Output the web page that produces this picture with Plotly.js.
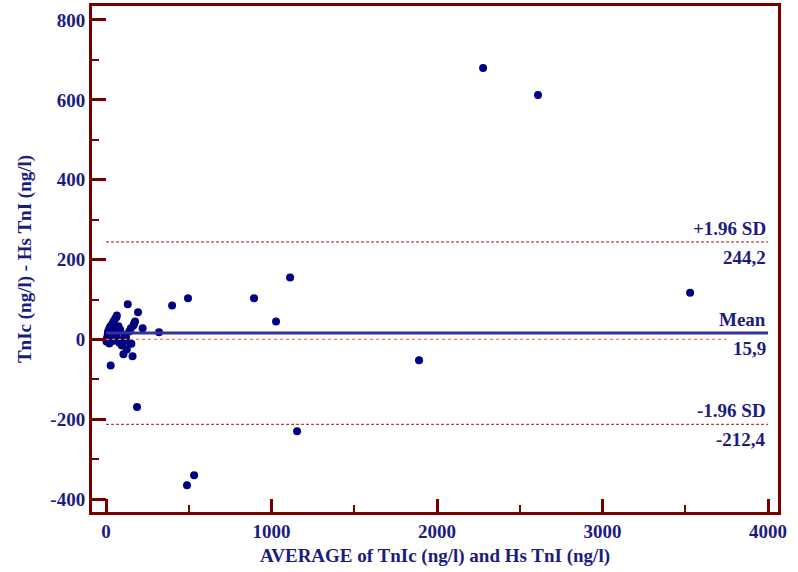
<!DOCTYPE html>
<html>
<head>
<meta charset="utf-8">
<script src="https://cdn.plot.ly/plotly-3.0.1.min.js"></script>
<style>html,body{margin:0;padding:0;background:#fff;}#chart{width:798px;height:572px;}</style>
</head>
<body>
<div id="chart"></div>
<script>
// Bland-Altman data: average (x) and difference (y)
const avgValues = [2,5,8,10,12,15,18,20,22,25,28,30,32,35,40,45,48,50,55,58,62,65,68,72,75,80,85,95,100,105,110,120,125,131,140,145,150,153,160,165,170,175,187,193,221,320,
  399,495,489,532,894,1027,1112,1154,1891,2278,2610,3529];
const diffValues = [-5,3,-2,12,20,8,25,-10,30,15,-65,35,5,22,40,45,-3,28,52,10,55,60,18,0,33,-8,25,-15,-7,-37,12,5,-25,88,20,-10,28,-11,-42,35,40,45,-169,68,28,18,
  85,103,-365,-340,103,45,155,-230,-52,680,612,117];
const meanDiff = 15.9;
const upperLoA = 244.2;
const lowerLoA = -212.4;
const lineSpan = [0, 4000];
const zeroSpan = [0, 3750];
const upperLabels = ["+1.96 SD", "244,2"];
const meanLabels = ["Mean", "15,9"];
const lowerLabels = ["-1.96 SD", "-212,4"];
const xTickVals = [0, 1000, 2000, 3000, 4000];
const yTickVals = [-400, -200, 0, 200, 400, 600, 800];

const navy = "#1c1c80";
const axisRed = "#7a0000";
const font = "Liberation Serif";
const fs = 19;

const traces = [
  {x: avgValues, y: diffValues, mode: "markers", type: "scatter",
   marker: {color: "#000080", size: 8}, hoverinfo: "x+y"},
  {x: zeroSpan, y: [0, 0], mode: "lines", type: "scatter",
   line: {color: "#ff7a20", width: 1.3, dash: "dot"}},
  {x: lineSpan, y: [upperLoA, upperLoA], mode: "lines", type: "scatter",
   line: {color: "#a01010", width: 1, dash: "3px,2px"}},
  {x: lineSpan, y: [lowerLoA, lowerLoA], mode: "lines", type: "scatter",
   line: {color: "#a01010", width: 1, dash: "3px,2px"}},
  {x: lineSpan, y: [meanDiff, meanDiff], mode: "lines", type: "scatter",
   line: {color: "#333399", width: 3}}
];

function lbl(text, y, above) {
  return {x: lineSpan[1], y: y, xref: "x", yref: "y", text: "<b>" + text + "</b>",
    showarrow: false, xanchor: "right", yanchor: above ? "bottom" : "top",
    yshift: above ? 1 : -3, font: {family: font, size: fs, color: navy}};
}

const layout = {
  width: 798, height: 572,
  margin: {l: 92, r: 20, t: 6, b: 60},
  paper_bgcolor: "#fff", plot_bgcolor: "#fff",
  showlegend: false,
  font: {family: font, size: fs, color: navy},
  xaxis: {
    range: [-85, 4060], tickvals: xTickVals, ticktext: xTickVals.map(v => "<b>" + v + "</b>"),
    showgrid: false, zeroline: false,
    showline: true, linecolor: axisRed, linewidth: 3, mirror: true,
    ticks: "inside", ticklen: 13, tickwidth: 3, tickcolor: axisRed,
    minor: {dtick: 500, tick0: 0, ticks: "inside", ticklen: 7, tickwidth: 2, tickcolor: axisRed, showgrid: false},
    tickfont: {family: font, size: fs, color: navy},
    title: {text: "<b>AVERAGE of TnIc (ng/l) and Hs TnI (ng/l)</b>", font: {family: font, size: fs, color: navy}, standoff: 8}
  },
  yaxis: {
    range: [-432, 835], tickvals: yTickVals, ticktext: yTickVals.map(v => "<b>" + v + "</b>"),
    showgrid: false, zeroline: false,
    showline: true, linecolor: axisRed, linewidth: 3, mirror: true,
    ticks: "inside", ticklen: 14, tickwidth: 3, tickcolor: axisRed,
    minor: {dtick: 100, tick0: 0, ticks: "inside", ticklen: 7, tickwidth: 2, tickcolor: axisRed, showgrid: false},
    tickfont: {family: font, size: fs, color: navy},
    title: {text: "<b>TnIc (ng/l) - Hs TnI (ng/l)</b>", font: {family: font, size: fs, color: navy}, standoff: 14}
  },
  annotations: [
    lbl(upperLabels[0], upperLoA, true), lbl(upperLabels[1], upperLoA, false),
    lbl(meanLabels[0], meanDiff, true), lbl(meanLabels[1], meanDiff, false),
    lbl(lowerLabels[0], lowerLoA, true), lbl(lowerLabels[1], lowerLoA, false)
  ]
};

Plotly.newPlot("chart", traces, layout, {displayModeBar: false, staticPlot: true});
</script>
</body>
</html>
